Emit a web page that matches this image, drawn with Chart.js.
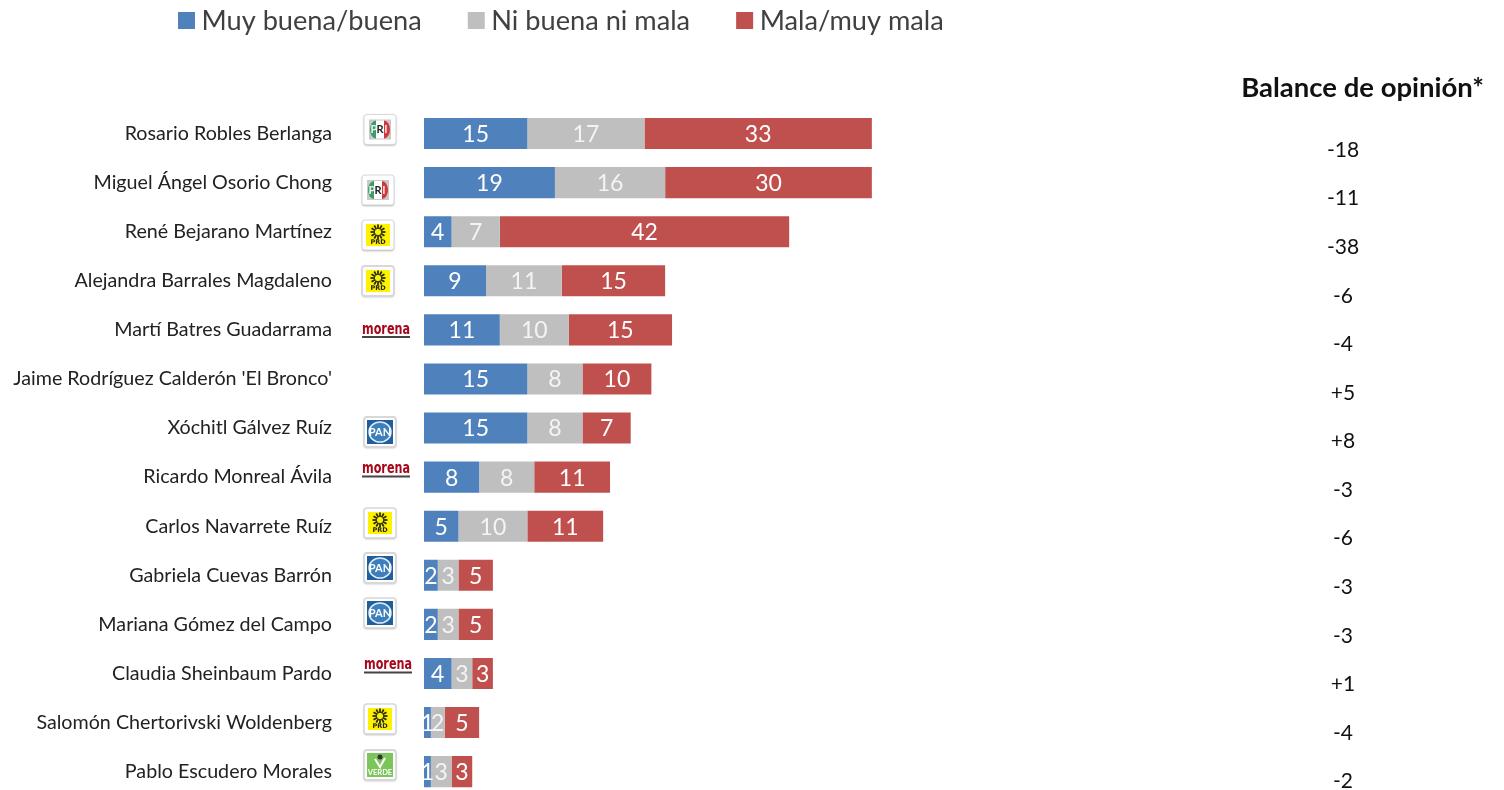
<!DOCTYPE html>
<html>
<head>
<meta charset="utf-8">
<title>Balance de opinión</title>
<script src="https://cdn.jsdelivr.net/npm/chart.js@4"></script>
<style>
  html, body { margin: 0; padding: 0; background: #fff; overflow: hidden; }
  #wrap { width: 1504px; height: 790px; overflow: hidden; }
</style>
</head>
<body>
<div id="wrap"><canvas id="opinionChart" width="1504" height="808"></canvas></div>
<script>
const names = [
  "Rosario Robles Berlanga",
  "Miguel Ángel Osorio Chong",
  "René Bejarano Martínez",
  "Alejandra Barrales Magdaleno",
  "Martí Batres Guadarrama",
  "Jaime Rodríguez Calderón 'El Bronco'",
  "Xóchitl Gálvez Ruíz",
  "Ricardo Monreal Ávila",
  "Carlos Navarrete Ruíz",
  "Gabriela Cuevas Barrón",
  "Mariana Gómez del Campo",
  "Claudia Sheinbaum Pardo",
  "Salomón Chertorivski Woldenberg",
  "Pablo Escudero Morales"
];
const buena = [15, 19, 4, 9, 11, 15, 15, 8, 5, 2, 2, 4, 1, 1];
const neutra = [17, 16, 7, 11, 10, 8, 8, 8, 10, 3, 3, 3, 2, 3];
const mala = [33, 30, 42, 15, 15, 10, 7, 11, 11, 5, 5, 3, 5, 3];
const balance = ["-18", "-11", "-38", "-6", "-4", "+5", "+8", "-3", "-6", "-3", "-3", "+1", "-4", "-2"];
const parties = ["PRI", "PRI", "PRD", "PRD", "morena", null, "PAN", "morena", "PRD", "PAN", "PAN", "morena", "PRD", "VERDE"];

// logo centres
const logoX = [380, 378, 378, 378, 386, 0, 380, 386, 380, 380, 380, 388, 380, 380];
const logoY = [129.5, 190, 235, 281, 332.5, 0, 432, 472, 523, 568, 613, 668, 719, 765];

const FONT = "Lato, 'Open Sans', sans-serif";
const BLUE = "#4F81BD";
const GREY = "#BFBFBF";
const RED = "#C0504D";

function tile(ctx, cx, cy) {
  ctx.save();
  ctx.shadowColor = "rgba(0,0,0,0.35)";
  ctx.shadowBlur = 2;
  ctx.shadowOffsetY = 1;
  ctx.fillStyle = "#fff";
  ctx.strokeStyle = "#d8d8d8";
  ctx.beginPath();
  ctx.roundRect(cx - 16, cy - 15, 32, 30, 3);
  ctx.fill();
  ctx.shadowColor = "transparent";
  ctx.stroke();
  ctx.restore();
}

function drawPri(ctx, cx, cy) {
  tile(ctx, cx, cy);
  ctx.fillStyle = "#c9c9c9";
  ctx.fillRect(cx - 11, cy - 10, 22, 20);
  ctx.fillStyle = "#3f9a68";
  ctx.beginPath(); ctx.ellipse(cx - 4, cy, 6, 9, 0, Math.PI / 2, Math.PI * 1.5); ctx.fill();
  ctx.fillStyle = "#fff";
  ctx.fillRect(cx - 4, cy - 9, 8, 18);
  ctx.fillStyle = "#d2373c";
  ctx.beginPath(); ctx.ellipse(cx + 4, cy, 6, 9, 0, -Math.PI / 2, Math.PI / 2); ctx.fill();
  ctx.font = "bold 11px " + FONT;
  ctx.textAlign = "center";
  ctx.textBaseline = "middle";
  ctx.fillStyle = "#e8f4ee"; ctx.fillText("P", cx - 6, cy);
  ctx.fillStyle = "#222"; ctx.fillText("R", cx, cy);
  ctx.fillStyle = "#fbe9e9"; ctx.fillText("I", cx + 6, cy);
}

function drawPrd(ctx, cx, cy) {
  tile(ctx, cx, cy);
  ctx.fillStyle = "#FFF200";
  ctx.fillRect(cx - 12, cy - 11, 24, 22);
  const sy = cy - 3;
  ctx.strokeStyle = "#2a2a10";
  ctx.lineWidth = 1.8;
  for (let i = 0; i < 12; i++) {
    const a = i * Math.PI / 6;
    ctx.beginPath();
    ctx.moveTo(cx + Math.cos(a) * 3, sy + Math.sin(a) * 3);
    ctx.lineTo(cx + Math.cos(a) * 7.5, sy + Math.sin(a) * 7.5);
    ctx.stroke();
  }
  ctx.fillStyle = "#FFF200";
  ctx.beginPath(); ctx.arc(cx, sy, 2.5, 0, Math.PI * 2); ctx.fill();
  ctx.font = "bold 6.5px 'DejaVu Sans', sans-serif";
  ctx.textAlign = "center";
  ctx.textBaseline = "middle";
  ctx.fillStyle = "#222";
  ctx.fillText("PRD", cx, cy + 7.5);
}

function drawPan(ctx, cx, cy) {
  tile(ctx, cx, cy);
  ctx.fillStyle = "#1F5F9E";
  ctx.fillRect(cx - 13, cy - 12, 26, 24);
  ctx.strokeStyle = "#dfeaf5";
  ctx.lineWidth = 1.5;
  ctx.fillStyle = "#3d7fbb";
  ctx.beginPath(); ctx.ellipse(cx, cy, 11, 10, 0, 0, Math.PI * 2); ctx.fill(); ctx.stroke();
  ctx.font = "bold 11px " + FONT;
  ctx.textAlign = "center";
  ctx.textBaseline = "middle";
  ctx.fillStyle = "#fff";
  ctx.fillText("PAN", cx, cy + 0.5);
}

function drawMorena(ctx, cx, cy) {
  ctx.font = "bold 15px 'DejaVu Sans', sans-serif";
  ctx.textAlign = "center";
  ctx.textBaseline = "middle";
  ctx.fillStyle = "#A5071B";
  ctx.fillText("morena", cx, cy - 2.5, 48);
  ctx.fillStyle = "#444";
  ctx.fillRect(cx - 24, cy + 3.5, 48, 2);
}

function drawVerde(ctx, cx, cy) {
  tile(ctx, cx, cy);
  ctx.fillStyle = "#7CC55A";
  ctx.fillRect(cx - 13, cy - 12, 26, 24);
  ctx.strokeStyle = "#fff";
  ctx.lineWidth = 2;
  ctx.beginPath();
  ctx.moveTo(cx - 5, cy - 6);
  ctx.lineTo(cx, cy + 2);
  ctx.lineTo(cx + 5, cy - 7);
  ctx.stroke();
  ctx.fillStyle = "#333";
  ctx.beginPath(); ctx.arc(cx, cy - 8, 2.5, 0, Math.PI * 2); ctx.fill();
  ctx.font = "bold 7.5px " + FONT;
  ctx.textAlign = "center";
  ctx.textBaseline = "middle";
  ctx.fillStyle = "#fff";
  ctx.fillText("VERDE", cx, cy + 7.5);
}

const logoDrawers = { PRI: drawPri, PRD: drawPrd, PAN: drawPan, morena: drawMorena, VERDE: drawVerde };

const extras = {
  id: "extras",
  afterDatasetsDraw(chart) {
    const ctx = chart.ctx;
    const yScale = chart.scales.y;

    // numbers inside the bars
    ctx.save();
    ctx.font = "23px " + FONT;
    ctx.textAlign = "center";
    ctx.textBaseline = "middle";
    chart.data.datasets.forEach((ds, d) => {
      chart.getDatasetMeta(d).data.forEach((bar, i) => {
        ctx.fillStyle = d === 1 ? "#f4f4f4" : "#ffffff";
        ctx.fillText(ds.data[i], (bar.x + bar.base) / 2, bar.y + 1);
      });
    });
    ctx.restore();

    // logos
    ctx.save();
    parties.forEach((p, i) => {
      if (p) logoDrawers[p](ctx, logoX[i], logoY[i]);
    });
    ctx.restore();

    // balance column, it runs a bit tighter than the rows
    ctx.save();
    ctx.fillStyle = "#111";
    ctx.textAlign = "center";
    ctx.textBaseline = "middle";
    ctx.font = "21px " + FONT;
    balance.forEach((b, i) => {
      ctx.fillText(b, 1343, yScale.getPixelForValue(i) + 16.5 - i * 0.5);
    });
    ctx.font = "bold 27.5px " + FONT;
    ctx.textAlign = "right";
    ctx.fillText("Balance de opinión*", 1484, 88);
    ctx.restore();

    // legend
    ctx.save();
    ctx.font = "27.2px " + FONT;
    ctx.textAlign = "left";
    ctx.textBaseline = "middle";
    let x = 178;
    chart.data.datasets.forEach((ds) => {
      ctx.fillStyle = ds.backgroundColor;
      ctx.fillRect(x, 12, 17, 17);
      ctx.fillStyle = "#404040";
      ctx.fillText(ds.label, x + 23.5, 21);
      x += 23.5 + ctx.measureText(ds.label).width + 46;
    });
    ctx.restore();
  }
};

new Chart(document.getElementById("opinionChart").getContext("2d"), {
  type: "bar",
  data: {
    labels: names,
    datasets: [
      { label: "Muy buena/buena", data: buena, backgroundColor: BLUE },
      { label: "Ni buena ni mala", data: neutra, backgroundColor: GREY },
      { label: "Mala/muy mala", data: mala, backgroundColor: RED }
    ]
  },
  options: {
    indexAxis: "y",
    responsive: false,
    animation: false,
    layout: { padding: { top: 109, right: 597.7, bottom: 0, left: 0 } },
    categoryPercentage: 1,
    barPercentage: 0.633,
    scales: {
      x: {
        stacked: true,
        min: 0,
        max: 70,
        display: false
      },
      y: {
        stacked: true,
        border: { display: false },
        // tick padding also pads the axis ends, so the gap is made with invisible tick marks
        grid: { drawOnChartArea: false, drawTicks: true, tickLength: 92, tickColor: "transparent" },
        ticks: {
          autoSkip: false,
          padding: 0,
          color: "#222",
          font: { family: FONT, size: 19.7 }
        },
        afterFit(scale) { scale.width = 424; }
      }
    },
    plugins: {
      legend: { display: false },
      tooltip: { enabled: false }
    }
  },
  plugins: [extras]
});
</script>
</body>
</html>
